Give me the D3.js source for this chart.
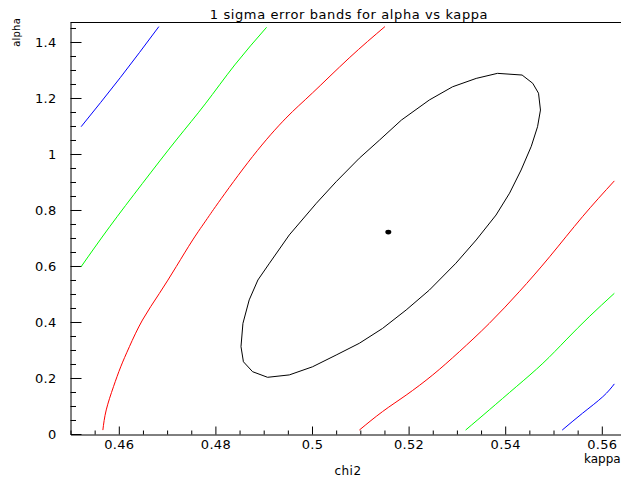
<!DOCTYPE html>
<html>
<head>
<meta charset="utf-8">
<script src="https://cdn.jsdelivr.net/npm/d3@7"></script>
<style>
	body { margin: 0; background: #fff; }
	svg { display: block; }
	text { font-family: "DejaVu Sans", sans-serif; fill: #000; }
</style>
</head>
<body>
<div id="chart"></div>
<script>
// contour values: [kappa, alpha]
const center = [0.5158, 0.721]

const ellipse1 = [
	[0.5384, 1.288], [0.5435, 1.282], [0.5457, 1.2525], [0.5469, 1.217], [0.5473, 1.157],
	[0.5467, 1.0975], [0.5454, 1.0275], [0.5433, 0.943], [0.5409, 0.860], [0.5381, 0.782],
	[0.5340, 0.693], [0.5298, 0.610], [0.5243, 0.514], [0.5195, 0.443], [0.5146, 0.377],
	[0.5098, 0.324], [0.5050, 0.282], [0.5001, 0.240], [0.4953, 0.211], [0.4908, 0.2025],
	[0.4877, 0.2225], [0.4858, 0.258], [0.4853, 0.312], [0.4857, 0.395], [0.4870, 0.479],
	[0.4888, 0.550], [0.4912, 0.610], [0.4953, 0.711], [0.5009, 0.824], [0.5050, 0.901],
	[0.5098, 0.985], [0.5140, 1.050], [0.5185, 1.121], [0.5243, 1.193], [0.5291, 1.240],
	[0.5340, 1.270], [0.5384, 1.288]
]

const redLeft = [
	[0.4567, 0.014], [0.4574, 0.086], [0.4589, 0.169], [0.4604, 0.240], [0.4622, 0.312],
	[0.4649, 0.407], [0.4684, 0.502], [0.4719, 0.598], [0.4753, 0.693], [0.4781, 0.764],
	[0.4806, 0.826], [0.4877, 0.991], [0.4946, 1.128], [0.5001, 1.218], [0.5077, 1.343],
	[0.5151, 1.455]
]
const redRight = [
	[0.5098, 0.014], [0.5146, 0.080], [0.5195, 0.139], [0.5250, 0.211], [0.5305, 0.294],
	[0.5367, 0.395], [0.5429, 0.508], [0.5492, 0.633], [0.5560, 0.776], [0.5626, 0.904]
]
const greenLeft = [
	[0.4522, 0.5975], [0.4581, 0.740], [0.4649, 0.895], [0.4719, 1.050], [0.4779, 1.179],
	[0.4840, 1.318], [0.4906, 1.4525]
]
const greenRight = [
	[0.5318, 0.014], [0.5367, 0.086], [0.5423, 0.169], [0.5478, 0.2525], [0.5526, 0.336],
	[0.5574, 0.419], [0.5626, 0.5025]
]
const blueLeft = [[0.4522, 1.0975], [0.4603, 1.2725], [0.4683, 1.455]]
const blueRight = [[0.5518, 0.014], [0.5560, 0.074], [0.5602, 0.133], [0.5626, 0.179]]

const xMajor = [0.46, 0.48, 0.50, 0.52, 0.54, 0.56]
const yMajor = [0, 0.2, 0.4, 0.6, 0.8, 1, 1.2, 1.4]

const W = 621, H = 477
const padLeft = 70.5, padTop = 22, padBottom = 434

const svg = d3.select('#chart').append('svg')
	.attr('width', W)
	.attr('height', H)

// frame runs past the right edge of the picture
const x = d3.scaleLinear().domain([0.45, 0.57]).range([padLeft, padLeft + 0.12 * 4830])
const y = d3.scaleLinear().domain([0, 1.4714]).range([padBottom, padTop])

const xMinor = d3.range(0.45, 0.5701, 0.005).map(v => +v.toFixed(3)).filter(v => xMajor.indexOf(v) < 0)
const yMinor = d3.range(0, 1.4501, 0.05).map(v => +v.toFixed(2)).filter(v => yMajor.indexOf(v) < 0)

// top frame line
svg.append('line')
	.attr('x1', padLeft).attr('x2', W)
	.attr('y1', padTop + 0.5).attr('y2', padTop + 0.5)
	.style('stroke', '#000')

const fmt = d => d === 0 ? '0' : d3.format('')(+d.toFixed(2))

svg.append('g')
	.attr('transform', 'translate(0,' + (padBottom + 0.5) + ')')
	.call(d3.axisBottom(x).tickValues(xMajor).tickFormat(fmt).tickSize(-8).tickSizeOuter(0).tickPadding(5))
svg.append('g')
	.attr('transform', 'translate(0,' + (padBottom + 0.5) + ')')
	.call(d3.axisBottom(x).tickValues(xMinor).tickFormat('').tickSize(-4).tickSizeOuter(0))
	.select('.domain').remove()

svg.append('g')
	.attr('transform', 'translate(' + padLeft + ',0)')
	.call(d3.axisLeft(y).tickValues(yMajor).tickFormat(fmt).tickSize(-11).tickSizeOuter(0).tickPadding(14))
svg.append('g')
	.attr('transform', 'translate(' + padLeft + ',0)')
	.call(d3.axisLeft(y).tickValues(yMinor).tickFormat('').tickSize(-5.5).tickSizeOuter(0))
	.select('.domain').remove()

svg.selectAll('.tick text')
	.style('font-family', '"DejaVu Sans", sans-serif')
	.style('font-size', '13px')
	.style('letter-spacing', '0.3px')
	.style('fill', '#000')
svg.selectAll('.domain, .tick line').style('stroke', '#000')

// curves
const line = d3.line()
	.x(d => x(d[0]))
	.y(d => y(d[1]))
	.curve(d3.curveNatural)

const ellipseLine = d3.line()
	.x(d => x(d[0]))
	.y(d => y(d[1]))

const curves = [
	{ data: blueLeft, color: '#0000ff' },
	{ data: blueRight, color: '#0000ff' },
	{ data: greenLeft, color: '#00ff00' },
	{ data: greenRight, color: '#00ff00' },
	{ data: redLeft, color: '#ff0000' },
	{ data: redRight, color: '#ff0000' }
]

svg.append('g').selectAll('path')
	.data(curves)
	.enter().append('path')
		.attr('d', d => line(d.data))
		.style('fill', 'none')
		.style('stroke', d => d.color)
		.style('stroke-width', 1)

svg.append('path')
	.attr('d', ellipseLine(ellipse1))
	.style('fill', 'none')
	.style('stroke', '#000')
	.style('stroke-width', 1)

svg.append('ellipse')
	.attr('cx', x(center[0]))
	.attr('cy', y(center[1]))
	.attr('rx', 3)
	.attr('ry', 2.3)
	.style('fill', '#000')

// titles
svg.append('text')
	.attr('x', 349)
	.attr('y', 19)
	.attr('text-anchor', 'middle')
	.style('font-size', '13px')
	.style('letter-spacing', '0.6px')
	.text('1 sigma error bands for alpha vs kappa')

svg.append('text')
	.attr('transform', 'translate(20,18) rotate(-90)')
	.attr('text-anchor', 'end')
	.style('font-size', '10px')
	.style('letter-spacing', '0.2px')
	.text('alpha')

svg.append('text')
	.attr('x', 348)
	.attr('y', 475)
	.attr('text-anchor', 'middle')
	.style('font-size', '12px')
	.style('letter-spacing', '0.5px')
	.text('chi2')

svg.append('text')
	.attr('x', 584)
	.attr('y', 463)
	.style('font-size', '12px')
	.text('kappa')
</script>
</body>
</html>
